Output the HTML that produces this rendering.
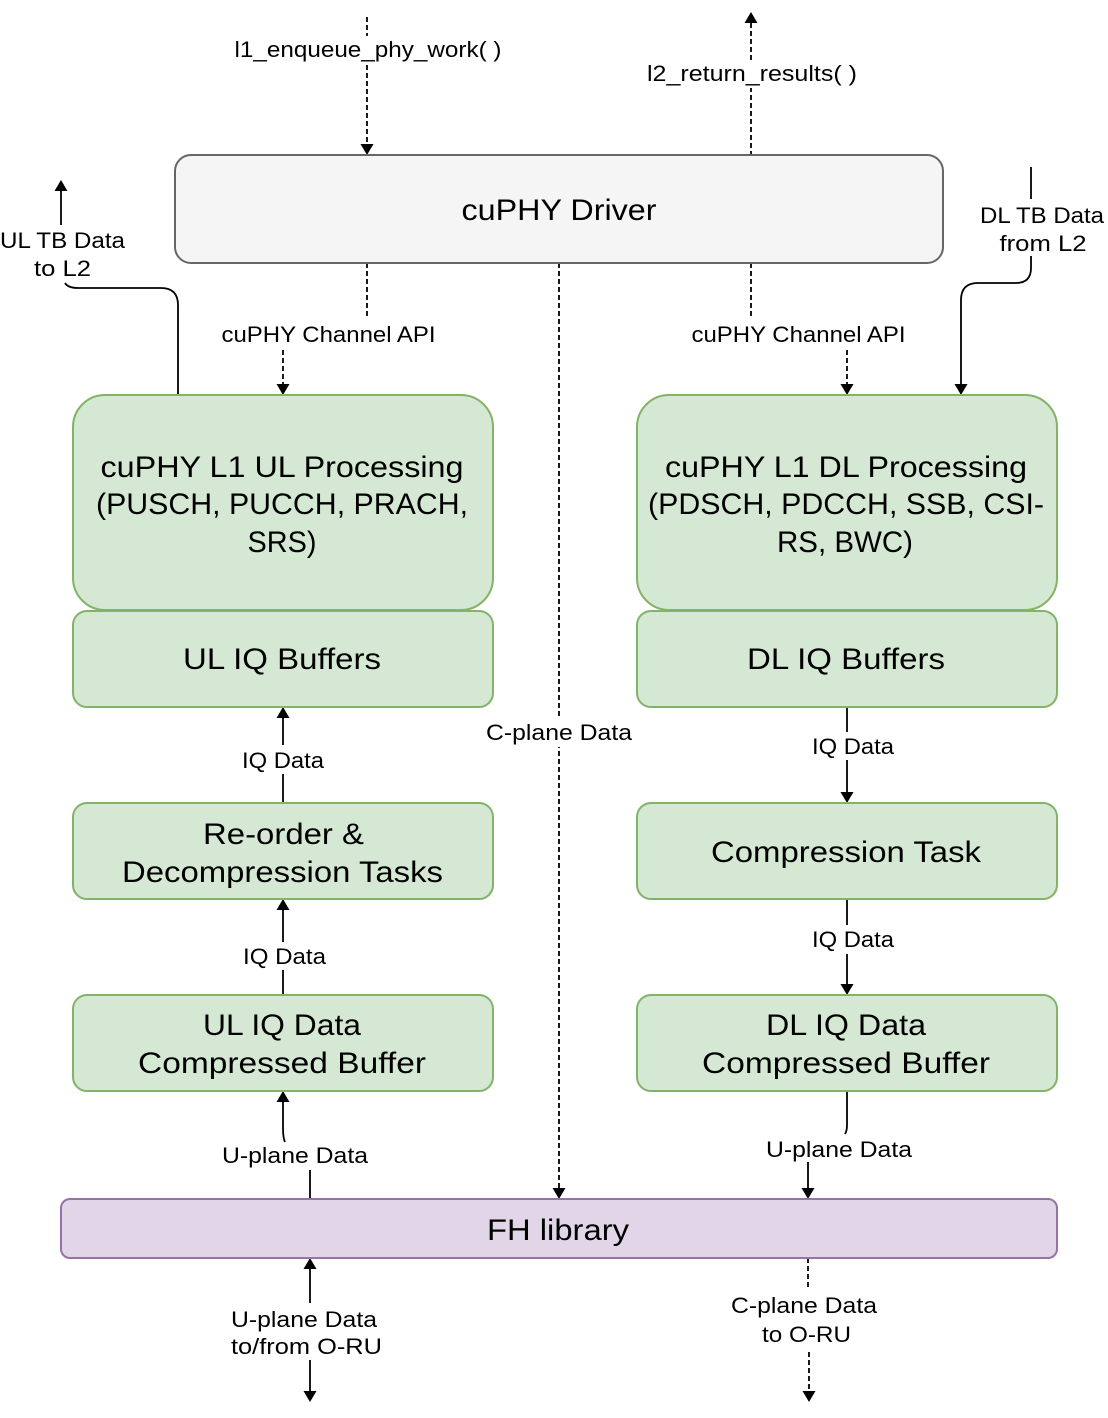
<!DOCTYPE html>
<html>
<head>
<meta charset="utf-8">
<style>
  html,body{margin:0;padding:0;background:#fff;}
  svg{display:block;}
  text{font-family:"Liberation Sans",Arial,sans-serif;fill:#000;}
  .big{font-size:30px;}
  .lbl{font-size:22px;}
</style>
</head>
<body>
<svg width="1108" height="1418" viewBox="0 0 1108 1418" xmlns="http://www.w3.org/2000/svg">
  <g fill="none" stroke="#000" stroke-width="1.8">
    <!-- l1_enqueue dashed -->
    <line x1="367" y1="17" x2="367" y2="145" stroke-dasharray="5 3"/>
    <!-- l2_return dashed -->
    <line x1="751" y1="23" x2="751" y2="155" stroke-dasharray="5 3"/>
    <!-- channel API left -->
    <line x1="367" y1="263" x2="367" y2="316" stroke-dasharray="5 3"/>
    <line x1="283" y1="350" x2="283" y2="385" stroke-dasharray="5 3"/>
    <!-- channel API right -->
    <line x1="751" y1="263" x2="751" y2="316" stroke-dasharray="5 3"/>
    <line x1="847" y1="350" x2="847" y2="385" stroke-dasharray="5 3"/>
    <!-- C-plane center -->
    <line x1="559" y1="263" x2="559" y2="1189" stroke-dasharray="5 3"/>
    <!-- UL TB -->
    <path d="M178 395 V305 Q178 288 161 288 H78 Q68 288 65 283"/>
    <line x1="61" y1="225" x2="61" y2="190"/>
    <!-- DL TB -->
    <line x1="1031" y1="167" x2="1031" y2="199"/>
    <path d="M1031 256 V268 Q1031 283 1016 283 H978 Q961 283 961 300 V385"/>
    <!-- UL IQ arrows -->
    <line x1="283" y1="803" x2="283" y2="717"/>
    <line x1="283" y1="995" x2="283" y2="909"/>
    <!-- DL IQ arrows -->
    <line x1="847" y1="707" x2="847" y2="793"/>
    <line x1="847" y1="899" x2="847" y2="985"/>
    <!-- UL U-plane -->
    <line x1="310" y1="1199" x2="310" y2="1170"/>
    <path d="M283 1101 V1128 Q283 1138 285 1142"/>
    <!-- DL U-plane -->
    <path d="M847 1091 V1125 Q847 1131 845 1134"/>
    <line x1="808" y1="1162" x2="808" y2="1189"/>
    <!-- bottom left -->
    <line x1="310" y1="1303" x2="310" y2="1268"/>
    <line x1="310" y1="1360" x2="310" y2="1392"/>
    <!-- bottom right dashed -->
    <line x1="808" y1="1258" x2="808" y2="1289" stroke-dasharray="5 3"/>
    <line x1="809" y1="1352" x2="809" y2="1392" stroke-dasharray="5 3"/>
  </g>

  <!-- arrowheads -->
  <g fill="#000">
    <polygon points="360.5,144 373.5,144 367,155"/>
    <polygon points="744.5,23 757.5,23 751,12"/>
    <polygon points="276.5,384 289.5,384 283,395"/>
    <polygon points="840.5,384 853.5,384 847,395"/>
    <polygon points="552.5,1188 565.5,1188 559,1199"/>
    <polygon points="54.5,191 67.5,191 61,180"/>
    <polygon points="954.5,384 967.5,384 961,395"/>
    <polygon points="276.5,718 289.5,718 283,707"/>
    <polygon points="276.5,910 289.5,910 283,899"/>
    <polygon points="840.5,792 853.5,792 847,803"/>
    <polygon points="840.5,984 853.5,984 847,995"/>
    <polygon points="276.5,1102 289.5,1102 283,1091"/>
    <polygon points="801.5,1188 814.5,1188 808,1199"/>
    <polygon points="303.5,1269 316.5,1269 310,1258"/>
    <polygon points="303.5,1391 316.5,1391 310,1402"/>
    <polygon points="802.5,1391 815.5,1391 809,1402"/>
  </g>

  <!-- label backgrounds -->
  <g fill="#fff">
    <rect x="232" y="36" width="274" height="27"/>
    <rect x="644" y="60" width="218" height="28"/>
    <rect x="484" y="717" width="150" height="30"/>
    <rect x="238" y="745" width="90" height="29"/>
    <rect x="240" y="942" width="90" height="28"/>
    <rect x="808" y="732" width="90" height="28"/>
    <rect x="808" y="925" width="90" height="29"/>
  </g>

  <!-- boxes -->
  <rect x="175" y="155" width="768" height="108" rx="16" fill="#f5f5f5" stroke="#666" stroke-width="2"/>
  <g fill="#d5e8d4" stroke="#82b366" stroke-width="2">
    <rect x="73" y="395" width="420" height="215" rx="32"/>
    <rect x="637" y="395" width="420" height="215" rx="32"/>
    <rect x="73" y="611" width="420" height="96" rx="14"/>
    <rect x="637" y="611" width="420" height="96" rx="14"/>
    <rect x="73" y="803" width="420" height="96" rx="14"/>
    <rect x="637" y="803" width="420" height="96" rx="14"/>
    <rect x="73" y="995" width="420" height="96" rx="14"/>
    <rect x="637" y="995" width="420" height="96" rx="14"/>
  </g>
  <rect x="61" y="1199" width="996" height="59" rx="9" fill="#e1d5e7" stroke="#9673a6" stroke-width="2"/>

  <!-- box texts -->
  <g class="big" text-anchor="middle">
    <text x="559" y="220" textLength="195" lengthAdjust="spacingAndGlyphs">cuPHY Driver</text>
    <text x="282" y="477" textLength="363" lengthAdjust="spacingAndGlyphs">cuPHY L1 UL Processing</text>
    <text x="282" y="514" textLength="372" lengthAdjust="spacingAndGlyphs">(PUSCH, PUCCH, PRACH,</text>
    <text x="282" y="552" textLength="69" lengthAdjust="spacingAndGlyphs">SRS)</text>
    <text x="846" y="477" textLength="362" lengthAdjust="spacingAndGlyphs">cuPHY L1 DL Processing</text>
    <text x="846" y="514" textLength="396" lengthAdjust="spacingAndGlyphs">(PDSCH, PDCCH, SSB, CSI-</text>
    <text x="845" y="552" textLength="136" lengthAdjust="spacingAndGlyphs">RS, BWC)</text>
    <text x="282" y="669" textLength="198" lengthAdjust="spacingAndGlyphs">UL IQ Buffers</text>
    <text x="846" y="669" textLength="198" lengthAdjust="spacingAndGlyphs">DL IQ Buffers</text>
    <text x="283.5" y="844" textLength="161" lengthAdjust="spacingAndGlyphs">Re-order &amp;</text>
    <text x="282.5" y="882" textLength="321" lengthAdjust="spacingAndGlyphs">Decompression Tasks</text>
    <text x="846" y="862" textLength="270" lengthAdjust="spacingAndGlyphs">Compression Task</text>
    <text x="282" y="1035" textLength="158" lengthAdjust="spacingAndGlyphs">UL IQ Data</text>
    <text x="282" y="1073" textLength="288" lengthAdjust="spacingAndGlyphs">Compressed Buffer</text>
    <text x="846" y="1035" textLength="160" lengthAdjust="spacingAndGlyphs">DL IQ Data</text>
    <text x="846" y="1073" textLength="288" lengthAdjust="spacingAndGlyphs">Compressed Buffer</text>
    <text x="558" y="1240" textLength="142" lengthAdjust="spacingAndGlyphs">FH library</text>
  </g>

  <!-- connector labels -->
  <g class="lbl" text-anchor="middle">
    <text x="368" y="57" textLength="267" lengthAdjust="spacingAndGlyphs">l1_enqueue_phy_work( )</text>
    <text x="752" y="81" textLength="210" lengthAdjust="spacingAndGlyphs">l2_return_results( )</text>
    <text x="62.5" y="248" textLength="125" lengthAdjust="spacingAndGlyphs">UL TB Data</text>
    <text x="62.5" y="276" textLength="57" lengthAdjust="spacingAndGlyphs">to L2</text>
    <text x="1042" y="223" textLength="124" lengthAdjust="spacingAndGlyphs">DL TB Data</text>
    <text x="1043" y="251" textLength="87" lengthAdjust="spacingAndGlyphs">from L2</text>
    <text x="328.5" y="342" textLength="214" lengthAdjust="spacingAndGlyphs">cuPHY Channel API</text>
    <text x="798.5" y="342" textLength="214" lengthAdjust="spacingAndGlyphs">cuPHY Channel API</text>
    <text x="559" y="740" textLength="146" lengthAdjust="spacingAndGlyphs">C-plane Data</text>
    <text x="283" y="768" textLength="82" lengthAdjust="spacingAndGlyphs">IQ Data</text>
    <text x="284.5" y="964" textLength="83" lengthAdjust="spacingAndGlyphs">IQ Data</text>
    <text x="853" y="754" textLength="82" lengthAdjust="spacingAndGlyphs">IQ Data</text>
    <text x="853" y="947" textLength="82" lengthAdjust="spacingAndGlyphs">IQ Data</text>
    <text x="295" y="1163" textLength="146" lengthAdjust="spacingAndGlyphs">U-plane Data</text>
    <text x="839" y="1157" textLength="146" lengthAdjust="spacingAndGlyphs">U-plane Data</text>
    <text x="304" y="1327" textLength="146" lengthAdjust="spacingAndGlyphs">U-plane Data</text>
    <text x="306.5" y="1354" textLength="151" lengthAdjust="spacingAndGlyphs">to/from O-RU</text>
    <text x="804" y="1313" textLength="146" lengthAdjust="spacingAndGlyphs">C-plane Data</text>
    <text x="806.5" y="1342" textLength="89" lengthAdjust="spacingAndGlyphs">to O-RU</text>
  </g>
</svg>
</body>
</html>
